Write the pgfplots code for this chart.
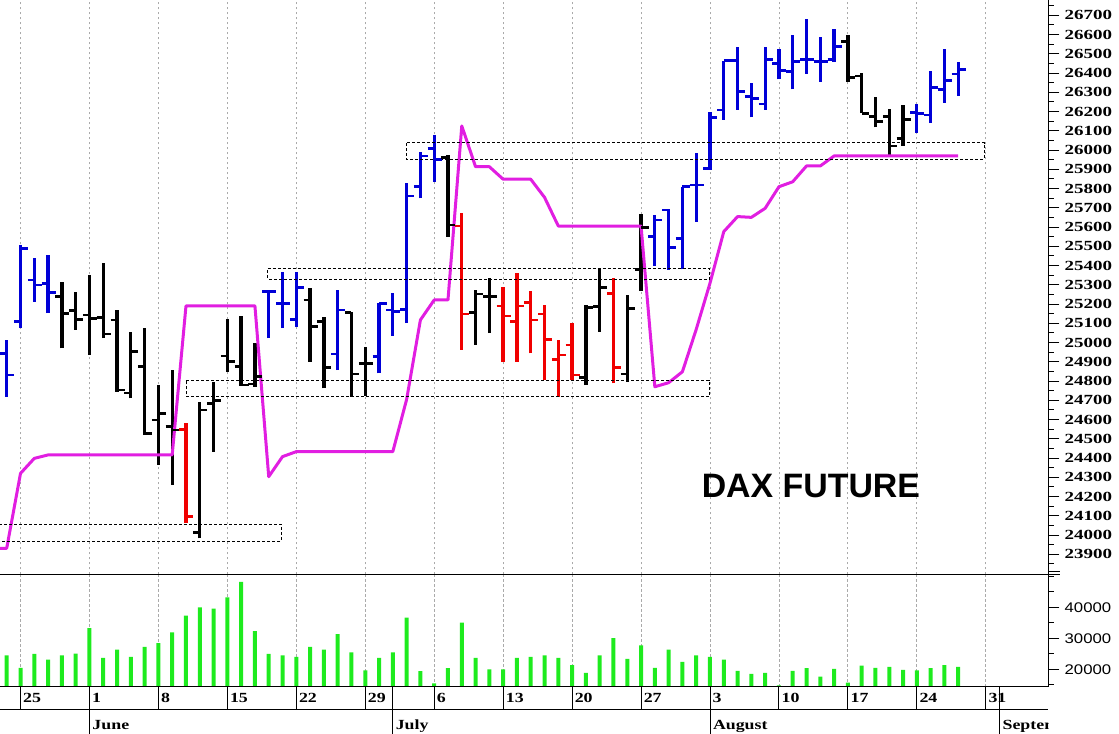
\documentclass[border=0pt]{standalone}
\usepackage{pgfplots}
\pgfplotsset{compat=1.18}
\usepackage{pgfplotstable}
\usepackage{fontspec}
\setmainfont{Liberation Sans}
\newfontfamily\pricefont[FakeStretch=1.36]{Liberation Serif}
\newfontfamily\datefont[FakeStretch=1.28]{Liberation Serif}
\newfontfamily\volfont[FakeStretch=1.2]{Liberation Sans}

\definecolor{barblue}{RGB}{0,0,215}
\definecolor{barred}{RGB}{240,0,0}
\definecolor{barblack}{RGB}{0,0,0}
\definecolor{magL}{RGB}{225,30,225}
\definecolor{volgreen}{RGB}{30,235,30}
\definecolor{gridgray}{RGB}{170,170,170}

\pgfdeclareplotmark{otick}{\pgfpathmoveto{\pgfqpoint{-6.5bp}{0pt}}\pgfpathlineto{\pgfqpoint{0pt}{0pt}}\pgfusepathqstroke}
\pgfdeclareplotmark{ctick}{\pgfpathmoveto{\pgfqpoint{0pt}{0pt}}\pgfpathlineto{\pgfqpoint{7.5bp}{0pt}}\pgfusepathqstroke}

% OHLC bars: i o h l c
\pgfplotstableread{
i o h l c
-1 24944 25013 24718 24831
0 25108 25506 25074 25489
1 25325 25437 25212 25299
2 25308 25455 25152 25259
18 25264 25273 25022 25264
19 25204 25368 25074 25204
20 25121 25368 25082 25285
23 24940 25273 24857 25169
26 24926 25207 24840 25204
27 25169 25256 25034 25160
28 25172 25827 25100 25761
29 25809 25991 25749 25969
30 26009 26078 25835 25952
46 25550 25662 25397 25636
47 25688 25692 25377 25494
48 25541 25809 25380 25809
49 25818 25986 25628 25818
50 25905 26199 25896 26170
51 26208 26464 26156 26464
52 26464 26537 26208 26303
53 26277 26346 26170 26268
54 26239 26537 26208 26468
55 26450 26523 26367 26412
56 26407 26597 26315 26459
57 26468 26679 26395 26468
58 26459 26585 26355 26459
59 26468 26627 26459 26537
65 26194 26239 26087 26191
66 26182 26412 26139 26326
67 26315 26523 26246 26360
68 26395 26459 26281 26419
}\blueT

\pgfplotstableread{
i o h l c
3 25238 25316 24970 25152
4 25165 25264 25065 25121
5 25143 25351 24935 25126
6 25131 25411 25022 25044
7 25117 25169 24744 24753
8 24738 25056 24710 24952
9 24874 25074 24519 24528
10 24597 24779 24364 24632
11 24563 24857 24260 24545
13 24012 24693 23983 24649
14 24684 24796 24433 24698
15 24930 25121 24848 24900
16 24874 25138 24774 24779
17 24784 24996 24770 24822
21 25221 25281 24900 25082
22 25108 25134 24762 24871
24 25155 25160 24718 24836
25 24892 24978 24722 24892
31 25962 25974 25550 25610
33 25155 25273 24987 25252
34 25237 25333 25048 25237
41 24819 25195 24779 25183
42 25186 25385 25056 25287
44 24836 25247 24796 25178
45 25380 25668 25269 25598
60 26563 26597 26355 26378
61 26384 26402 26191 26191
62 26173 26277 26118 26147
63 26173 26211 25974 26021
64 26061 26234 26021 26159
}\blackT

\pgfplotstableread{
i o h l c
12 24549 24580 24061 24095
32 25605 25674 24961 25148
35 25190 25290 24900 25138
36 25108 25359 24900 25190
37 25207 25269 24944 25117
38 25148 25195 24805 25017
39 24913 25013 24718 24935
40 24987 25100 24805 24831
43 25256 25333 24788 24871
}\redT

% magenta line
\pgfplotstableread{
i v
-2 23931
-1 23931
0 24320
1 24398
2 24416
11 24416
12 25190
17 25190
18 24303
19 24407
20 24433
27 24433
28 24704
29 25117
30 25221
31 25221
32 26125
33 25913
34 25913
35 25848
37 25848
38 25754
39 25605
45 25605
46 24770
47 24791
48 24848
49 25068
50 25308
51 25576
52 25654
53 25650
54 25697
55 25809
56 25835
57 25917
58 25917
59 25969
68 25969
}\magT

% volume
\pgfplotstableread{
i v
-1 24528
0 20477
1 24954
2 23142
3 24528
4 25061
5 33269
6 23675
7 26340
8 23995
9 27193
10 28472
11 31883
12 37320
13 39985
14 39559
15 43183
16 48193
17 32310
18 24954
19 24528
20 23995
21 27193
22 26340
23 31350
24 25487
25 19624
26 23675
27 25487
28 36680
29 19411
30 15467
31 20371
32 35081
33 23675
34 19944
35 19944
36 23675
37 23995
38 24528
39 23675
40 21330
41 18878
42 24528
43 30071
44 23355
45 27726
46 20477
47 26340
48 22396
49 24528
50 23995
51 23142
52 19518
53 18558
54 18878
55 14827
56 19518
57 20371
58 17600
59 20157
60 15681
61 21223
62 20477
63 20797
64 19838
65 19624
66 20371
67 21330
68 20797
}\volT

\begin{document}
\begin{tikzpicture}[x=1bp,y=1bp]
\useasboundingbox (0,0) rectangle (1119,734);

% ---------- price panel ----------
\begin{axis}[
  at={(0bp,159.7bp)}, anchor=south west,
  scale only axis, width=1048bp, height=574.3bp,
  xmin=-1.487, xmax=74.51, ymin=23795.8, ymax=26779.2,
  axis line style={draw=none},
  xtick={0,5,...,70}, xticklabels={}, xtick style={draw=none},
  xmajorgrids,
  grid style={gridgray, line width=0.8bp, dash pattern=on 2.5bp off 2.5bp},
  ytick={23900,24000,...,26700},
  minor ytick={23850,23950,...,26750},
  ytick pos=right, yticklabel pos=right, tick align=outside,
  major tick length=11.5bp, minor tick length=6bp,
  y tick style={black, line width=0.8bp},
  scaled y ticks=false,
  /pgf/number format/assume math mode=true,
  /pgf/number format/1000 sep={},
  yticklabel style={font=\pricefont\bfseries\fontsize{14}{14}\selectfont, anchor=west, inner sep=0pt, xshift=5bp},
  hlbar/.style={draw=none, mark=none, forget plot,
    error bars/.cd, y dir=plus, y explicit, error mark=none,
    error bar style={line width=3.3bp, draw=#1, solid}},
]
% blue bars
\addplot[hlbar=barblue] table[x=i, y=l, y error expr=\thisrow{h}-\thisrow{l}] {\blueT};
\addplot[only marks, mark=otick, mark options={line width=2.8bp, draw=barblue}, forget plot] table[x=i, y=o] {\blueT};
\addplot[only marks, mark=ctick, mark options={line width=2.8bp, draw=barblue}, forget plot] table[x=i, y=c] {\blueT};
% black bars
\addplot[hlbar=barblack] table[x=i, y=l, y error expr=\thisrow{h}-\thisrow{l}] {\blackT};
\addplot[only marks, mark=otick, mark options={line width=2.8bp, draw=barblack}, forget plot] table[x=i, y=o] {\blackT};
\addplot[only marks, mark=ctick, mark options={line width=2.8bp, draw=barblack}, forget plot] table[x=i, y=c] {\blackT};
% red bars
\addplot[hlbar=barred] table[x=i, y=l, y error expr=\thisrow{h}-\thisrow{l}] {\redT};
\addplot[only marks, mark=otick, mark options={line width=2.8bp, draw=barred}, forget plot] table[x=i, y=o] {\redT};
\addplot[only marks, mark=ctick, mark options={line width=2.8bp, draw=barred}, forget plot] table[x=i, y=c] {\redT};

% magenta line
\addplot[magL, line width=3bp, line join=round] table[x=i, y=v] {\magT};

% dashed zones
\addplot[black, line width=0.8bp, dash pattern=on 3bp off 2bp] coordinates {(-3,24056) (18.91,24056) (18.91,23969) (-3,23969)};
\addplot[black, line width=0.8bp, dash pattern=on 3bp off 2bp] coordinates {(12.03,24805) (49.95,24805) (49.95,24718) (12.03,24718) (12.03,24805)};
\addplot[black, line width=0.8bp, dash pattern=on 3bp off 2bp] coordinates {(17.94,25385) (49.95,25385) (49.95,25328) (17.94,25328) (17.94,25385)};
\addplot[black, line width=0.8bp, dash pattern=on 3bp off 2bp] coordinates {(28.01,26038) (69.88,26038) (69.88,25952) (28.01,25952) (28.01,26038)};

\node[font=\bfseries\fontsize{34}{34}\selectfont, inner sep=0pt] at (axis cs:57.32,24255) {DAX FUTURE};
\end{axis}

% ---------- volume panel ----------
\begin{axis}[
  at={(0bp,47.3bp)}, anchor=south west,
  scale only axis, width=1048bp, height=112.4bp,
  xmin=-1.487, xmax=74.51, ymin=14387, ymax=50645,
  axis line style={draw=none},
  xtick={0,5,...,70}, xticklabels={}, xtick style={draw=none},
  xmajorgrids,
  grid style={gridgray, line width=0.8bp, dash pattern=on 2.5bp off 2.5bp},
  ytick={20000,30000,40000},
  minor ytick={15000,25000,35000,45000,50000},
  ytick pos=right, yticklabel pos=right, tick align=outside,
  major tick length=11.5bp, minor tick length=6bp,
  y tick style={black, line width=0.8bp},
  scaled y ticks=false,
  /pgf/number format/assume math mode=true,
  /pgf/number format/1000 sep={},
  yticklabel style={font=\volfont\fontsize{14}{14}\selectfont, anchor=west, inner sep=0pt, xshift=5bp},
]
\addplot[ybar, bar width=4bp, fill=volgreen, draw=none] table[x=i, y=v] {\volT};
\end{axis}

% ---------- frame lines ----------
\draw[line width=1bp] (1048,47.3) -- (1048,734);
\draw[line width=1bp] (0,159.7) -- (1060,159.7);
\draw[line width=1bp] (1048,162.3) -- (1060,162.3);
\draw[line width=1bp] (0,47.3) -- (1048,47.3);
\draw[line width=1bp] (0,24) -- (1048,24);
\foreach \w in {0,...,14} {
  \draw[line width=1bp] ({20.5+68.95*\w},24) -- ({20.5+68.95*\w},47.3);
}
\foreach \xx in {89.45,392.8,710,999.6} {
  \draw[line width=1bp] (\xx,0) -- (\xx,47.3);
}
% day labels
\foreach \w/\lab in {0/25,1/1,2/8,3/15,4/22,5/29,6/6,7/13,8/20,9/27,10/3,11/10,12/17,13/24,14/31} {
  \node[anchor=base west, inner sep=0pt, font=\datefont\bfseries\fontsize{14}{14}\selectfont] at ({20.5+68.95*\w+2.5},31.3) {\lab};
}
% month labels
\begin{scope}
\clip (0,0) rectangle (1048,24);
\node[anchor=base west, inner sep=0pt, font=\datefont\bfseries\fontsize{14}{14}\selectfont] at (92.3,4) {June};
\node[anchor=base west, inner sep=0pt, font=\datefont\bfseries\fontsize{14}{14}\selectfont] at (395.6,4) {July};
\node[anchor=base west, inner sep=0pt, font=\datefont\bfseries\fontsize{14}{14}\selectfont] at (712.8,4) {August};
\node[anchor=base west, inner sep=0pt, font=\datefont\bfseries\fontsize{14}{14}\selectfont] at (1002.4,4) {September};
\end{scope}
\end{tikzpicture}
\end{document}
